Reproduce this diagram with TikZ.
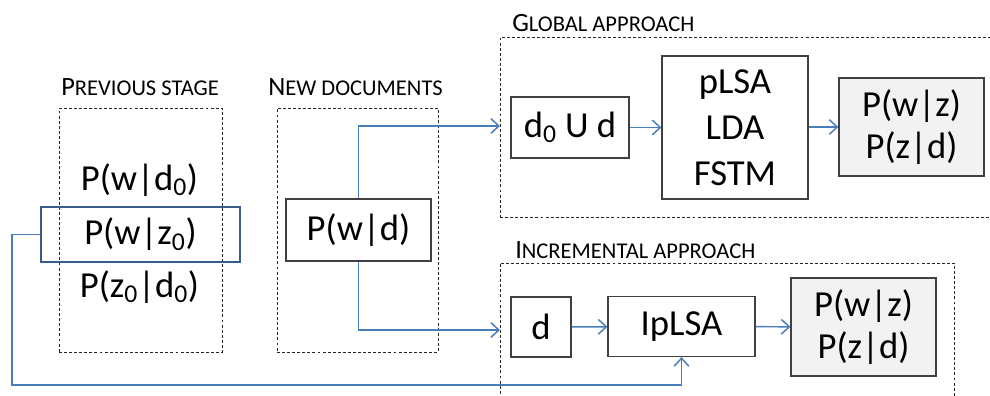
\documentclass[tikz,border=0pt]{standalone}
\usepackage{fontspec}
\setmainfont{Carlito}
\usetikzlibrary{arrows.meta}
\definecolor{flowblue}{HTML}{4A7EBB}
\definecolor{keyblue}{HTML}{385D8A}
\definecolor{outfill}{HTML}{F2F2F2}
% small-caps heading: large initial, smaller capitals after it
\newcommand{\capsc}[2]{{\fontsize{19.8}{22}\selectfont #1}{\fontsize{16.9}{19}\selectfont #2}}
\newcommand{\sub}[1]{\textsubscript{#1}}

\begin{document}
\begin{tikzpicture}[x=0.75pt,y=-0.75pt,
  boxsize/.style 2 args={minimum width=#1*0.75pt, minimum height=#2*0.75pt},
  container/.style={draw=black!85, dash pattern=on 2.2pt off 1.6pt, line width=0.6pt, inner sep=0pt},
  bigtext/.style={font=\fontsize{27.5}{31.5}\selectfont, inner sep=0pt, align=center},
  stagebox/.style={bigtext, draw=black!75, line width=0.9pt},
  outbox/.style={stagebox, fill=outfill, font=\fontsize{27.5}{31.5}\selectfont},
  keybox/.style={bigtext, draw=keyblue, line width=2pt},
  title/.style={anchor=west, inner sep=0pt},
  link/.style={draw=flowblue, line width=1.1pt},
  flow/.style={link, -{Straight Barb[length=6pt,width=11pt]}}
]
\useasboundingbox (0,0) rectangle (990,396);
\clip (0,0) rectangle (990,396);

% ---- containers ----
\node[container, boxsize={163}{244}] (prev) at (140.5,230) {};
\node[container, boxsize={161}{244}] (new)  at (357.5,230) {};
\node[container, boxsize={500}{180}] (glob) at (750,127) {};
\node[container, boxsize={454}{160}] (incr) at (727,343) {};

% ---- headings ----
\node[title] (tprev) at (61,87)  {\capsc{P}{REVIOUS STAGE}};
\node[title] (tnew)  at (268,87) {\capsc{N}{EW DOCUMENTS}};
\node[title] (tglob) at (512,23) {\capsc{G}{LOBAL APPROACH}};
\node[title] (tincr) at (515,250) {\capsc{I}{NCREMENTAL APPROACH}};

% ---- previous stage ----
\node[bigtext] (pwd0) at (139.5,180) {P(w|d\sub{0})};
\node[keybox, boxsize={199}{55}] (pwz0) at (140.5,234.5) {P(w|z\sub{0})};
\node[bigtext] (pzd0) at (139.5,287) {P(z\sub{0}|d\sub{0})};

% ---- new documents ----
\node[stagebox, boxsize={145}{62}] (pwd) at (358.5,230) {P(w|d)};

% ---- global approach ----
\node[stagebox, boxsize={118}{61}] (dud) at (570,127.5) {d\sub{0} U d};
\node[stagebox, boxsize={146}{143}, font=\fontsize{27.5}{34.5}\selectfont] (plsa) at (735,127.5) {pLSA\\LDA\\FSTM};
\node[outbox, boxsize={145}{98}] (gout) at (911.5,127) {P(w|z)\\P(z|d)};

% ---- incremental approach ----
\node[stagebox, boxsize={60}{60}] (dnew) at (541,327) {d};
\node[stagebox, boxsize={147}{60}] (iplsa) at (681.5,326.5) {IpLSA};
\node[outbox, boxsize={145}{98}] (iout) at (863.5,327) {P(w|z)\\P(z|d)};

% ---- connectors ----
\coordinate (gin) at (500,126);
\coordinate (iin) at (500,330);
\coordinate (loop) at (12,385);
\draw[flow] (pwd.north) |- (gin);
\draw[flow] (pwd.south) |- (iin);
\draw[flow] (dud) -- (plsa);
\draw[flow] (plsa.east |- gout) -- (gout);
\draw[flow] (dnew) -- (iplsa);
\draw[flow] (iplsa) -- (iout);
\draw[flow] (pwz0.west) -| (loop) -| (iplsa.south);
\end{tikzpicture}
\end{document}
